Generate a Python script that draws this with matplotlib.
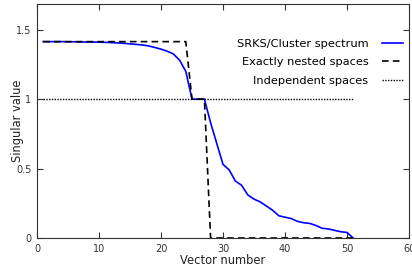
import matplotlib
matplotlib.use("Agg")
import matplotlib.pyplot as plt

vec = list(range(1, 52))
srks = [1.414, 1.414, 1.414, 1.414, 1.413, 1.413, 1.412, 1.411, 1.411, 1.410,
        1.409, 1.407, 1.405, 1.402, 1.398, 1.394, 1.390, 1.383, 1.372, 1.360,
        1.345, 1.325, 1.280, 1.200, 1.000, 1.000, 1.000, 0.830, 0.680, 0.530,
        0.490, 0.410, 0.380, 0.310, 0.280, 0.260, 0.230, 0.200, 0.160, 0.150,
        0.140, 0.120, 0.110, 0.105, 0.090, 0.070, 0.065, 0.055, 0.045, 0.040,
        0.000]
nested_x = [1, 24, 25, 27, 28, 51]
nested_y = [1.414, 1.414, 1.0, 1.0, 0.0, 0.0]
indep_x = [1, 51]
indep_y = [1.0, 1.0]

xticks = [0, 10, 20, 30, 40, 50, 60]
yticks = [0, 0.5, 1, 1.5]
ytick_labels = ["0", "0.5", "1", "1.5"]

fig = plt.figure(figsize=(4.12, 2.68), dpi=100)
ax = fig.add_axes([37/412, 30/268, 372/412, 234/268])
ax.plot(vec, srks, color="#0000ff", lw=1.2, label="SRKS/Cluster spectrum")
ax.plot(nested_x, nested_y, color="black", lw=1.2, ls=(0, (4, 2.5)), label="Exactly nested spaces")
ax.plot(indep_x, indep_y, color="black", lw=1.0, ls=(0, (1, 1)), label="Independent spaces")
ax.set_xlim(0, 60)
ax.set_ylim(0, 1.685)
ax.set_xticks(xticks)
ax.set_xticklabels([str(t) for t in xticks])
ax.set_yticks(yticks)
ax.set_yticklabels(ytick_labels)
ax.tick_params(direction="in", top=True, right=True, labelsize=7, length=4,
               colors="#333333", labelcolor="#333333", pad=4)
for s in ax.spines.values():
    s.set_color("#333333")
    s.set_linewidth(0.8)
ax.set_xlabel("Vector number", fontsize=8.3, color="#222222")
ax.xaxis.set_label_coords(0.5, -16/234)
ax.set_ylabel("Singular value", fontsize=8.3, color="#222222")
ax.yaxis.set_label_coords(-13/372, 0.5)
leg = ax.legend(loc="upper right", frameon=False, fontsize=8.2, markerfirst=False,
                handlelength=1.85, handletextpad=1.2, labelspacing=0.73,
                borderaxespad=0.0, borderpad=0.0,
                bbox_to_anchor=(366/372, 199/234))
for t in leg.get_texts():
    t.set_ha("right")
fig.savefig("out.png", dpi=100)
